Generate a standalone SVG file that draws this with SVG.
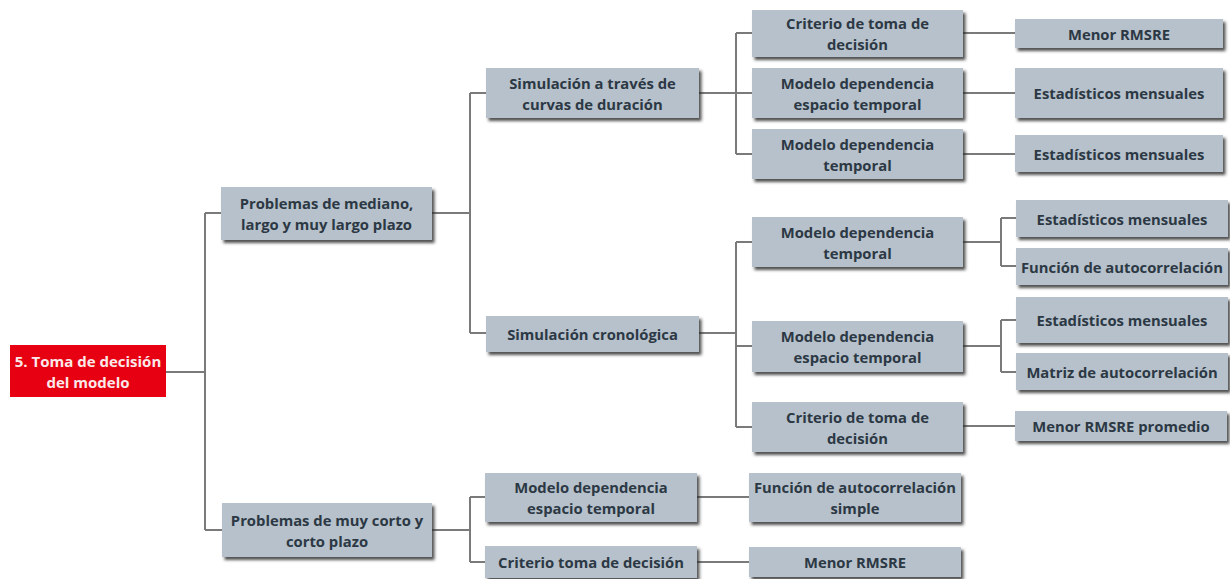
<svg xmlns="http://www.w3.org/2000/svg" width="1230" height="579" viewBox="0 0 1230 579">
  <defs>
    <filter id="shadow" x="-10%" y="-20%" width="130%" height="160%">
      <feDropShadow dx="2.5" dy="3" stdDeviation="1.6" flood-color="#262626" flood-opacity="0.8"/>
    </filter>
  </defs>
  <style>
    .box { fill: #b6c1cb; filter: url(#shadow); }
    .root { fill: #e60012; }
    .lbl { font-family: "Open Sans", "Liberation Sans", sans-serif; font-weight: 700; font-size: 14.8px; fill: #2c3844; text-anchor: middle; dominant-baseline: central; }
    .rootlbl { font-family: "Open Sans", "Liberation Sans", sans-serif; font-weight: 700; font-size: 15px; fill: #fbe9e9; text-anchor: middle; dominant-baseline: central; }
    .link { fill: none; stroke: #7a7a7a; stroke-width: 2; }
  </style>
  <rect width="1230" height="579" fill="#ffffff"/>

  <!-- connectors -->
  <g id="connectors" class="link">
    <path d="M166 372 H205 M205 213 V530 M205 213 H221 M205 530 H222"/>
    <path d="M432 213 H470 M470 93 V333 M470 93 H486 M470 333 H486"/>
    <path d="M432 530 H470 M470 497 V562 M470 497 H485 M470 562 H485"/>
    <path d="M699 93 H736 M736 33 V154 M736 33 H752 M736 93 H752 M736 154 H752"/>
    <path d="M699 333 H736 M736 242 V427 M736 242 H752 M736 346 H752 M736 427 H752"/>
    <path d="M697 497 H749 M697 562 H749"/>
    <path d="M963 33 H1015 M963 93 H1015 M963 154 H1015"/>
    <path d="M963 242 H1001 M1001 218 V266 M1001 218 H1016 M1001 266 H1016"/>
    <path d="M963 346 H1001 M1001 320 V372 M1001 320 H1016 M1001 372 H1016"/>
    <path d="M963 426 H1015"/>
  </g>

  <!-- root -->
  <g id="root">
    <rect class="root" x="10" y="345" width="156" height="52"/>
    <text class="rootlbl" x="88" y="361">5. Toma de decisión</text>
    <text class="rootlbl" x="88" y="382">del modelo</text>
  </g>

  <!-- first level -->
  <g id="n-mediano">
    <rect class="box" x="221" y="187" width="211" height="53"/>
    <text class="lbl" x="326.5" y="203">Problemas de mediano,</text>
    <text class="lbl" x="326.5" y="224">largo y muy largo plazo</text>
  </g>
  <g id="n-corto">
    <rect class="box" x="222" y="503" width="210" height="54"/>
    <text class="lbl" x="327" y="519.5">Problemas de muy corto y</text>
    <text class="lbl" x="327" y="540.5">corto plazo</text>
  </g>

  <!-- second level -->
  <g id="n-curvas">
    <rect class="box" x="486" y="68" width="213" height="50"/>
    <text class="lbl" x="592.5" y="82.5">Simulación a través de</text>
    <text class="lbl" x="592.5" y="103.5">curvas de duración</text>
  </g>
  <g id="n-crono">
    <rect class="box" x="486" y="316" width="213" height="36"/>
    <text class="lbl" x="592.5" y="334">Simulación cronológica</text>
  </g>
  <g id="n-corto-modelo">
    <rect class="box" x="485" y="473" width="212" height="49"/>
    <text class="lbl" x="591" y="487">Modelo dependencia</text>
    <text class="lbl" x="591" y="508">espacio temporal</text>
  </g>
  <g id="n-corto-criterio">
    <rect class="box" x="485" y="546" width="212" height="32"/>
    <text class="lbl" x="591" y="562">Criterio toma de decisión</text>
  </g>

  <!-- third level -->
  <g id="n-curvas-criterio">
    <rect class="box" x="752" y="10" width="211" height="47"/>
    <text class="lbl" x="857.5" y="23">Criterio de toma de</text>
    <text class="lbl" x="857.5" y="44">decisión</text>
  </g>
  <g id="n-curvas-espacio">
    <rect class="box" x="752" y="68" width="211" height="50"/>
    <text class="lbl" x="857.5" y="82.5">Modelo dependencia</text>
    <text class="lbl" x="857.5" y="103.5">espacio temporal</text>
  </g>
  <g id="n-curvas-temporal">
    <rect class="box" x="752" y="129" width="211" height="50"/>
    <text class="lbl" x="857.5" y="143.5">Modelo dependencia</text>
    <text class="lbl" x="857.5" y="164.5">temporal</text>
  </g>
  <g id="n-crono-temporal">
    <rect class="box" x="752" y="217" width="211" height="50"/>
    <text class="lbl" x="857.5" y="231.5">Modelo dependencia</text>
    <text class="lbl" x="857.5" y="252.5">temporal</text>
  </g>
  <g id="n-crono-espacio">
    <rect class="box" x="752" y="321" width="211" height="51"/>
    <text class="lbl" x="857.5" y="335.5">Modelo dependencia</text>
    <text class="lbl" x="857.5" y="356.5">espacio temporal</text>
  </g>
  <g id="n-crono-criterio">
    <rect class="box" x="752" y="402" width="211" height="50"/>
    <text class="lbl" x="857.5" y="416.5">Criterio de toma de</text>
    <text class="lbl" x="857.5" y="437.5">decisión</text>
  </g>
  <g id="n-corto-funcion">
    <rect class="box" x="749" y="473" width="212" height="49"/>
    <text class="lbl" x="855" y="487">Función de autocorrelación</text>
    <text class="lbl" x="855" y="508">simple</text>
  </g>
  <g id="n-corto-rmsre">
    <rect class="box" x="749" y="547" width="212" height="30"/>
    <text class="lbl" x="855" y="562">Menor RMSRE</text>
  </g>

  <!-- fourth level -->
  <g id="n-rmsre-1">
    <rect class="box" x="1015" y="19" width="208" height="29"/>
    <text class="lbl" x="1119" y="33.5">Menor RMSRE</text>
  </g>
  <g id="n-est-1">
    <rect class="box" x="1015" y="68" width="208" height="50"/>
    <text class="lbl" x="1119" y="93">Estadísticos mensuales</text>
  </g>
  <g id="n-est-2">
    <rect class="box" x="1015" y="135" width="208" height="37"/>
    <text class="lbl" x="1119" y="154">Estadísticos mensuales</text>
  </g>
  <g id="n-est-3">
    <rect class="box" x="1016" y="200" width="212" height="37"/>
    <text class="lbl" x="1122" y="218.5">Estadísticos mensuales</text>
  </g>
  <g id="n-funcion">
    <rect class="box" x="1016" y="248" width="212" height="37"/>
    <text class="lbl" x="1122" y="266.5">Función de autocorrelación</text>
  </g>
  <g id="n-est-4">
    <rect class="box" x="1016" y="297" width="212" height="46"/>
    <text class="lbl" x="1122" y="320">Estadísticos mensuales</text>
  </g>
  <g id="n-matriz">
    <rect class="box" x="1016" y="353" width="212" height="37"/>
    <text class="lbl" x="1122" y="371.5">Matriz de autocorrelación</text>
  </g>
  <g id="n-rmsre-prom">
    <rect class="box" x="1015" y="411" width="212" height="30"/>
    <text class="lbl" x="1121" y="426">Menor RMSRE promedio</text>
  </g>
</svg>
